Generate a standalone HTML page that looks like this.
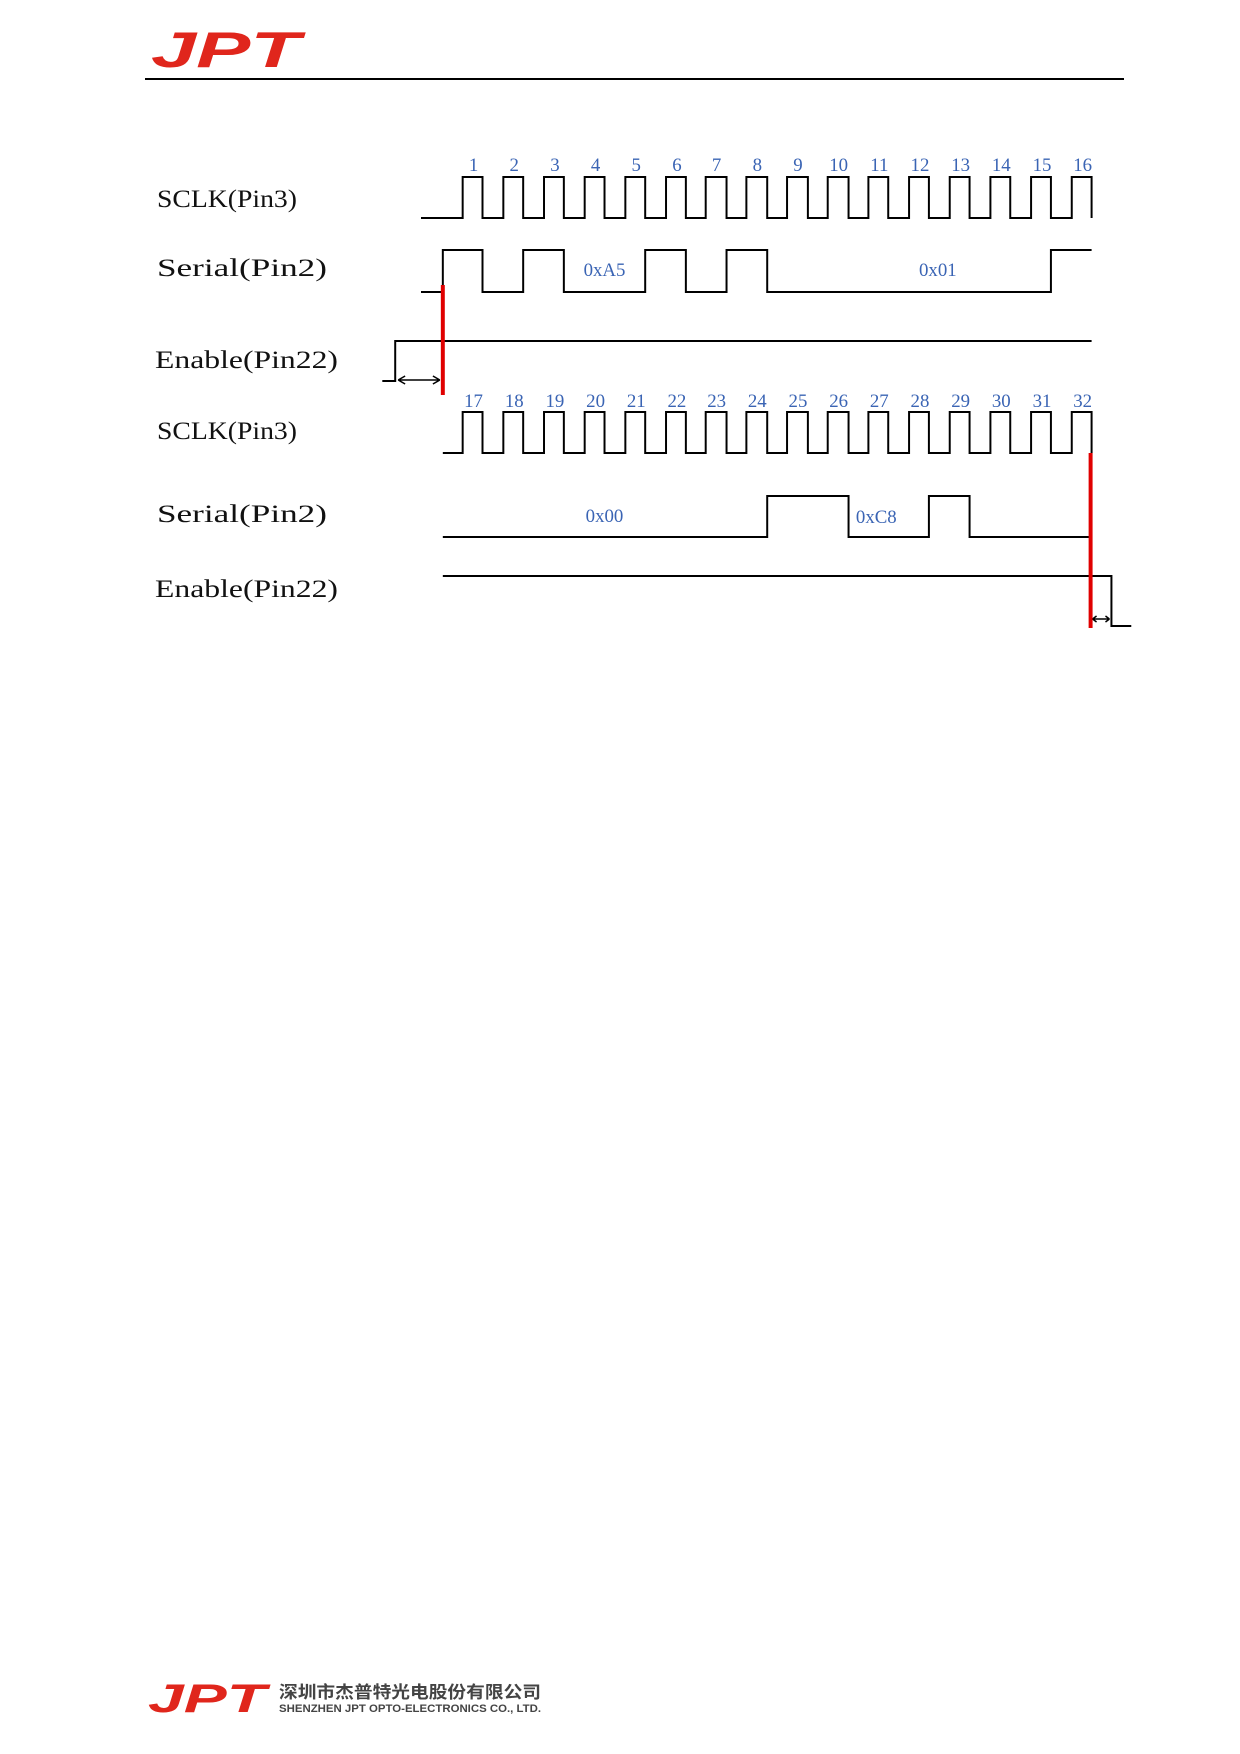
<!DOCTYPE html>
<html><head><meta charset="utf-8"><style>
html,body{margin:0;padding:0;background:#fff;}
svg{display:block}
</style></head><body>
<svg width="1240" height="1754" viewBox="0 0 1240 1754" xmlns="http://www.w3.org/2000/svg">
<text x="151" y="67" font-family="Liberation Sans, sans-serif" font-weight="bold" font-style="italic" font-size="50" fill="#e0261c" textLength="149" lengthAdjust="spacingAndGlyphs">JPT</text>
<line x1="145" y1="79" x2="1124" y2="79" stroke="#000" stroke-width="2"/>

<g font-family="Liberation Serif, serif" font-size="25" fill="#111">
<text x="157" y="207" textLength="140" lengthAdjust="spacingAndGlyphs">SCLK(Pin3)</text>
<text x="157" y="276" textLength="170" lengthAdjust="spacingAndGlyphs">Serial(Pin2)</text>
<text x="155" y="368" textLength="183" lengthAdjust="spacingAndGlyphs">Enable(Pin22)</text>
<text x="157" y="439" textLength="140" lengthAdjust="spacingAndGlyphs">SCLK(Pin3)</text>
<text x="157" y="522" textLength="170" lengthAdjust="spacingAndGlyphs">Serial(Pin2)</text>
<text x="155" y="597" textLength="183" lengthAdjust="spacingAndGlyphs">Enable(Pin22)</text>
</g>

<g transform="translate(421,0) scale(0.992,1) translate(-421,0)">
<g fill="none" stroke="#000" stroke-width="2">
<path d="M421 218 H463 V177 H483 V218 H504 V177 H524 V218 H545 V177 H565 V218 H586 V177 H606 V218 H627 V177 H647 V218 H668 V177 H688 V218 H708 V177 H729 V218 H749 V177 H770 V218 H790 V177 H811 V218 H831 V177 H852 V218 H872 V177 H892 V218 H913 V177 H933 V218 H954 V177 H974 V218 H995 V177 H1015 V218 H1036 V177 H1056 V218 H1077 V177 H1097 V218"/>
<path d="M421 292 H443 V250 H483 V292 H524 V250 H565 V292 H647 V250 H688 V292 H729 V250 H770 V292 H1056 V250 H1097"/>
<path d="M382 381 H395 V341 H1097"/>
<path d="M443 453 H463 V412 H483 V453 H504 V412 H524 V453 H545 V412 H565 V453 H586 V412 H606 V453 H627 V412 H647 V453 H668 V412 H688 V453 H708 V412 H729 V453 H749 V412 H770 V453 H790 V412 H811 V453 H831 V412 H852 V453 H872 V412 H892 V453 H913 V412 H933 V453 H954 V412 H974 V453 H995 V412 H1015 V453 H1036 V412 H1056 V453 H1077 V412 H1097 V453"/>
<path d="M443 537 H770 V496 H852 V537 H933 V496 H974 V537 H1097"/>
<path d="M443 576 H1117 V626 H1137"/>
</g>
<g stroke="#000" stroke-width="1.5" fill="none">
<path d="M398 380 H440 M398 380 l7 -4 M398 380 l7 4 M440 380 l-7 -4 M440 380 l-7 4"/>
<path d="M1098 619 H1115 M1098 619 l4 -3 M1098 619 l4 3 M1115 619 l-4 -3 M1115 619 l-4 3"/>
</g>
<g stroke="#e00000" stroke-width="4">
<line x1="443" y1="285" x2="443" y2="395"/>
<line x1="1096" y1="453" x2="1096" y2="628"/>
</g>

<g font-family="Liberation Serif, serif" font-size="19" fill="#3a64b4" text-anchor="middle">
<text x="474" y="171">1</text><text x="515" y="171">2</text><text x="556" y="171">3</text><text x="597" y="171">4</text>
<text x="638" y="171">5</text><text x="679" y="171">6</text><text x="719" y="171">7</text><text x="760" y="171">8</text>
<text x="801" y="171">9</text><text x="842" y="171">10</text><text x="883" y="171">11</text><text x="924" y="171">12</text>
<text x="965" y="171">13</text><text x="1006" y="171">14</text><text x="1047" y="171">15</text><text x="1088" y="171">16</text>
<text x="474" y="407">17</text><text x="515" y="407">18</text><text x="556" y="407">19</text><text x="597" y="407">20</text>
<text x="638" y="407">21</text><text x="679" y="407">22</text><text x="719" y="407">23</text><text x="760" y="407">24</text>
<text x="801" y="407">25</text><text x="842" y="407">26</text><text x="883" y="407">27</text><text x="924" y="407">28</text>
<text x="965" y="407">29</text><text x="1006" y="407">30</text><text x="1047" y="407">31</text><text x="1088" y="407">32</text>
<text x="606" y="276">0xA5</text>
<text x="942" y="276">0x01</text>
<text x="606" y="522">0x00</text>
<text x="880" y="523">0xC8</text>
</g>
</g>

<text x="148" y="1712" font-family="Liberation Sans, sans-serif" font-weight="bold" font-style="italic" font-size="40" fill="#e0261c" textLength="118" lengthAdjust="spacingAndGlyphs">JPT</text>
<text x="279" y="1698" font-family="Liberation Sans, 'Noto Sans CJK SC', sans-serif" font-weight="bold" font-size="17" fill="#444" textLength="262" lengthAdjust="spacingAndGlyphs">深圳市杰普特光电股份有限公司</text>
<text x="279" y="1712" font-family="Liberation Sans, sans-serif" font-weight="bold" font-size="11" fill="#444" textLength="262" lengthAdjust="spacingAndGlyphs">SHENZHEN JPT OPTO-ELECTRONICS CO., LTD.</text>
</svg>
</body></html>
